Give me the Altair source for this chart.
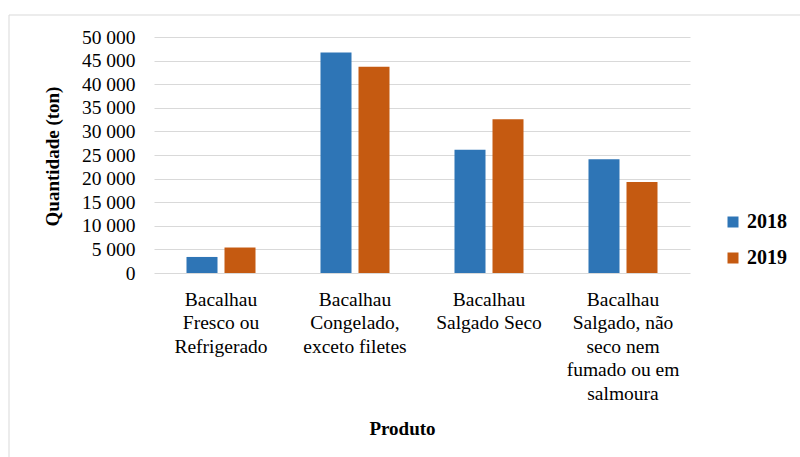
import json
import altair as alt
import pandas as pd

categories = [
    "Bacalhau Fresco ou Refrigerado",
    "Bacalhau Congelado, exceto filetes",
    "Bacalhau Salgado Seco",
    "Bacalhau Salgado, não seco nem fumado ou em salmoura",
]
label_lines = [
    ["Bacalhau", "Fresco ou", "Refrigerado"],
    ["Bacalhau", "Congelado,", "exceto filetes"],
    ["Bacalhau", "Salgado Seco"],
    ["Bacalhau", "Salgado, não", "seco nem", "fumado ou em", "salmoura"],
]
years = ["2018", "2019"]
values_2018 = [3400, 46700, 26100, 24100]
values_2019 = [5400, 43700, 32600, 19300]
colors = ["#2E75B6", "#C55A11"]

rows = []
for c, v in zip(categories, values_2018):
    rows.append({"Produto": c, "Ano": "2018", "Quantidade": v})
for c, v in zip(categories, values_2019):
    rows.append({"Produto": c, "Ano": "2019", "Quantidade": v})
df = pd.DataFrame(rows)

# multi-line x labels
expr = "datum.value"
for c, lines in reversed(list(zip(categories, label_lines))):
    expr = f"datum.value == {json.dumps(c, ensure_ascii=False)} ? {json.dumps(lines, ensure_ascii=False)} : ({expr})"

FONT = "Liberation Serif"

bars = alt.Chart(df).mark_bar().encode(
    x=alt.X(
        "Produto:N",
        sort=categories,
        scale=alt.Scale(paddingInner=0.485, paddingOuter=0.2425),
        axis=alt.Axis(
            title="Produto",
            labelAngle=0,
            labelExpr=expr,
            labelFont=FONT,
            labelFontSize=19.5,
            labelColor="#000000",
            labelLineHeight=23.5,
            labelPadding=17,
            labelLimit=0,
            labelBaseline="top",
            domain=False,
            ticks=False,
            titleFont=FONT,
            titleFontSize=19,
            titleFontWeight="bold",
            titleColor="#000000",
            titleX=248,
            titleY=155,
            titleBaseline="middle",
            titleAlign="center",
        ),
    ),
    xOffset=alt.XOffset("Ano:N", sort=years, scale=alt.Scale(paddingInner=0.184, paddingOuter=0)),
    y=alt.Y(
        "Quantidade:Q",
        scale=alt.Scale(domain=[0, 50000], nice=False),
        axis=alt.Axis(
            title="Quantidade (ton)",
            values=list(range(0, 50001, 5000)),
            labelExpr="replace(format(datum.value, ','), ',', ' ')",
            labelFont=FONT,
            labelFontSize=19.5,
            labelColor="#000000",
            labelPadding=19,
            domain=False,
            ticks=False,
            gridColor="#d9d9d9",
            gridWidth=1,
            titleFont=FONT,
            titleFontSize=19,
            titleFontWeight="bold",
            titleColor="#000000",
            titleX=-102,
            titleY=119,
            titleBaseline="middle",
            titleAlign="center",
        ),
    ),
    color=alt.Color(
        "Ano:N",
        sort=years,
        scale=alt.Scale(domain=years, range=colors),
        legend=alt.Legend(
            title=None,
            orient="none",
            legendX=569,
            legendY=175,
            symbolType="square",
            symbolSize=121,
            symbolStrokeWidth=0,
            labelFont=FONT,
            labelFontSize=20,
            labelFontWeight="bold",
            labelColor="#000000",
            rowPadding=16,
            labelOffset=4,
            padding=0,
        ),
    ),
)

frame_df = pd.DataFrame({"k": [0]})
top_border = alt.Chart(frame_df).mark_rule(color="#d9d9d9", strokeWidth=1).encode(
    x=alt.value(-145), x2=alt.value(700), y=alt.value(-22)
)
left_border = alt.Chart(frame_df).mark_rule(color="#d9d9d9", strokeWidth=1).encode(
    x=alt.value(-145), y=alt.value(-22), y2=alt.value(440)
)

chart = alt.layer(top_border, left_border, bars).properties(
    width=536,
    height=236,
    autosize=alt.AutoSizeParams(type="none"),
    padding={"left": 154, "top": 37, "right": 110, "bottom": 184},
    background="#ffffff",
).configure_view(stroke=None)

chart.save("out.html", embed_options={"renderer": "svg", "actions": False})
